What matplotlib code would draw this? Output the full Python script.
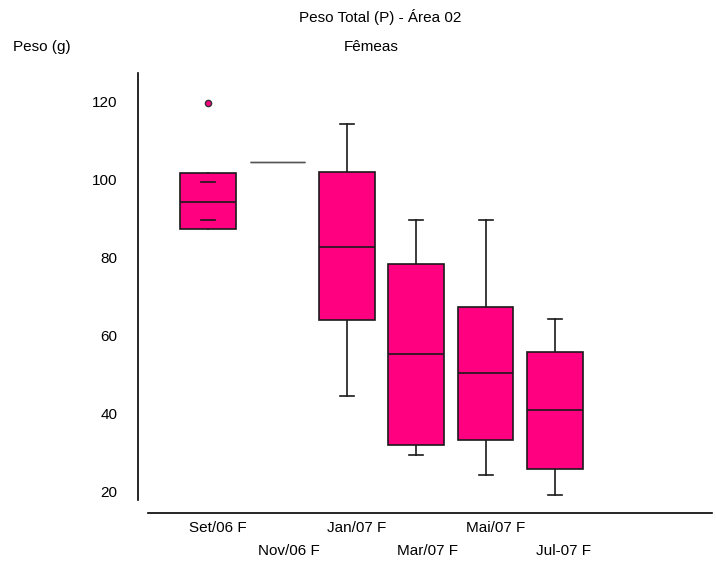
import matplotlib.pyplot as plt

# Dados (Peso Total, fêmeas, Área 02)
meses = ['Set/06 F', 'Nov/06 F', 'Jan/07 F', 'Mar/07 F', 'Mai/07 F', 'Jul-07 F']
q1 = [87.4, 104.7, 64.1, 32.1, 33.2, 25.8]
mediana = [94.4, 104.7, 82.9, 55.4, 50.6, 40.9]
q3 = [101.7, 104.7, 102.0, 78.4, 67.4, 55.8]
minimo = [89.7, 104.7, 44.6, 29.5, 24.3, 19.3]
maximo = [99.4, 104.7, 114.4, 89.6, 89.6, 64.4]
outliers = [[119.7], [], [], [], [], []]

plt.rcParams['font.family'] = ['Liberation Sans', 'DejaVu Sans']
plt.rcParams['font.size'] = 11

cor = '#FF0080'
borda = '#1a1a1a'

fig = plt.figure(figsize=(7.16, 5.63), dpi=100)
ax = fig.add_axes([148 / 716, 50 / 563, 564 / 716, 440 / 563])

stats = []
for i in range(len(meses)):
    stats.append({'label': meses[i], 'q1': q1[i], 'med': mediana[i], 'q3': q3[i],
                  'whislo': minimo[i], 'whishi': maximo[i], 'fliers': outliers[i]})

posicoes = list(range(1, len(meses) + 1))
bp = ax.bxp(stats, positions=posicoes, widths=0.8, patch_artist=True,
            capwidths=0.2,
            boxprops=dict(facecolor=cor, edgecolor=borda, linewidth=1.2, zorder=2),
            whiskerprops=dict(color=borda, linewidth=1.2, zorder=1.5),
            capprops=dict(color=borda, linewidth=1.2, zorder=3),
            medianprops=dict(color=borda, linewidth=1.2, zorder=3),
            flierprops=dict(marker='o', markerfacecolor=cor, markeredgecolor='#333333',
                            markersize=4.5, markeredgewidth=1))

# Nov/06 tem um único valor: linha cinza
bp['boxes'][1].set_edgecolor('#555555')
bp['boxes'][1].set_linewidth(1.0)
bp['medians'][1].set_color('#555555')
bp['medians'][1].set_linewidth(1.0)
for c in bp['caps'][2:4]:
    c.set_visible(False)

ax.set_xlim(0.135, 8.262)
ax.set_ylim(14.6, 127.4)
ax.set_yticks([20, 40, 60, 80, 100, 120])

# rótulos alinhados à esquerda, um pouco antes do centro de cada caixa
ax.set_xticks([p - 0.28 for p in posicoes])
ax.set_xticklabels([m if i % 2 == 0 else '\n' + m for i, m in enumerate(meses)])
for lab in ax.get_xticklabels():
    lab.set_horizontalalignment('left')
    lab.set_linespacing(1.75)

ax.tick_params(axis='both', length=0)
ax.tick_params(axis='y', pad=15)
ax.tick_params(axis='x', pad=6)

for s in ['top', 'right']:
    ax.spines[s].set_visible(False)
ax.spines['left'].set_position(('outward', 7.2))
ax.spines['left'].set_bounds(17.9, 127.4)
ax.spines['left'].set_linewidth(1.2)
ax.spines['bottom'].set_linewidth(1.2)

# Títulos
fig.text(380 / 716, 1 - 17 / 563, 'Peso Total (P) - Área 02', ha='center', va='center')
fig.text(371 / 716, 1 - 47 / 563, 'Fêmeas', ha='center', va='center')
fig.text(13 / 716, 1 - 47 / 563, 'Peso (g)', ha='left', va='center')

plt.savefig('out.png', dpi=100)
